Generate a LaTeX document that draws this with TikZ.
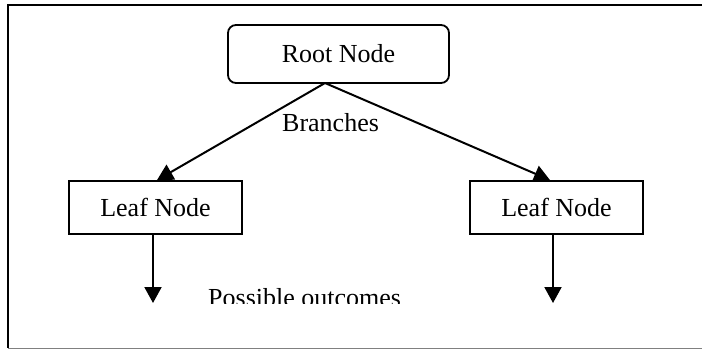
\documentclass[tikz,border=0pt]{standalone}
\usepackage{fontspec}
\setmainfont{Liberation Serif}
\usetikzlibrary{arrows.meta}
\begin{document}
\begin{tikzpicture}[x=1pt,y=-1pt,
  every node/.style={font=\fontsize{26}{30}\selectfont},
  boxstyle/.style={draw,line width=1.8pt,minimum width=173pt,minimum height=53pt,inner sep=0pt},
  rootstyle/.style={draw,line width=1.8pt,rounded corners=8pt,minimum width=221pt,minimum height=58pt,inner sep=0pt},
  conn/.style={line width=2pt,-{Triangle[width=17pt,length=16pt]}}]
\useasboundingbox (0,0) rectangle (702,349);
% frame
\draw[line width=2pt] (702,4.5) -- (8,4.5) -- (8,348);
\draw[line width=1pt,gray] (8,348) -- (702,348);
% nodes
\node[rootstyle] (root) at (338.5,54) {Root Node};
\node[boxstyle] (leafL) at (155.5,207.5) {Leaf Node};
\node[boxstyle] (leafR) at (556.5,207.5) {Leaf Node};
\coordinate (apex) at (325,83);
\coordinate (outL) at (153,303);
\coordinate (outR) at (553,303);
% connectors
\draw[conn] (apex) -- ([xshift=1.5pt]leafL.north);
\draw[conn] (apex) -- ([xshift=-6.5pt]leafR.north);
\draw[conn] ([xshift=-2.5pt]leafL.south) -- (outL);
\draw[conn] ([xshift=-3.5pt]leafR.south) -- (outR);
% labels
\node[anchor=base west,inner sep=0pt] (br) at (282,131) {Branches};
\begin{scope}
\clip (0,0) rectangle (702,303.5);
\node[anchor=base west,inner sep=0pt] (po) at (208,306) {Possible outcomes};
\end{scope}
\end{tikzpicture}
\end{document}
